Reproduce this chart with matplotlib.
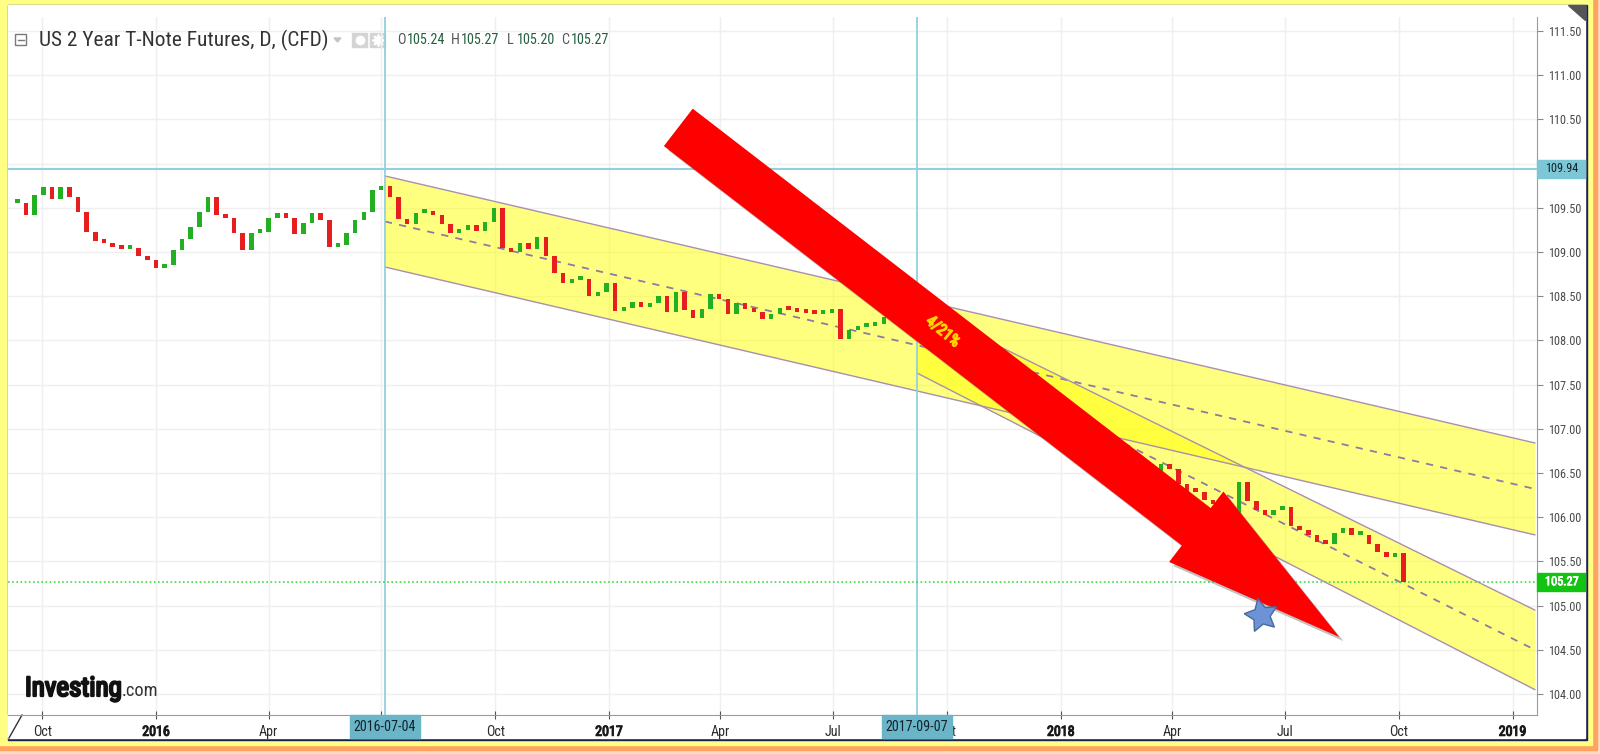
import matplotlib
matplotlib.use('Agg')
import matplotlib.pyplot as plt
import matplotlib.dates as mdates
import matplotlib.font_manager as fm
import matplotlib.patheffects as pe
from matplotlib.patches import Rectangle, Polygon, FancyArrowPatch, ArrowStyle
from matplotlib.textpath import TextPath
import numpy as np
import pandas as pd

# weekly closes (Sep 2015 .. Oct 2018)
close = [109.55, 109.42, 109.65, 109.74, 109.60, 109.74, 109.62, 109.45, 109.23, 109.12,
         109.10, 109.06, 109.03, 109.05, 108.95, 108.91, 108.82, 108.85, 109.02, 109.15,
         109.28, 109.45, 109.62, 109.42, 109.38, 109.22, 109.02, 109.22, 109.23, 109.38,
         109.44, 109.38, 109.20, 109.33, 109.44, 109.36, 109.06, 109.08, 109.22, 109.36,
         109.45, 109.70, 109.75, 109.62, 109.37, 109.32, 109.44, 109.45, 109.42, 109.32,
         109.22, 109.25, 109.30, 109.24, 109.34, 109.50, 109.05, 109.00, 109.10, 109.03,
         109.17, 108.95, 108.76, 108.65, 108.68, 108.70, 108.50, 108.55, 108.65, 108.33,
         108.37, 108.44, 108.38, 108.42, 108.50, 108.32, 108.55, 108.34, 108.25, 108.36,
         108.52, 108.47, 108.30, 108.42, 108.36, 108.32, 108.24, 108.30, 108.37, 108.34,
         108.32, 108.31, 108.30, 108.31, 108.36, 108.02, 108.12, 108.15, 108.16, 108.19,
         108.26, 108.28, 108.30, 108.27, 108.30, 108.22, 108.12, 108.05, 108.00, 107.95,
         107.90, 107.85, 107.80, 107.72, 107.62, 107.55, 107.50, 107.45, 107.35, 107.30,
         107.20, 107.10, 107.00, 106.92, 106.85, 106.78, 106.70, 106.62, 106.55, 106.50,
         106.48, 106.52, 106.60, 106.55, 106.38, 106.30, 106.28, 106.20, 106.15, 106.10,
         106.02, 106.40, 106.18, 106.08, 106.02, 106.08, 106.12, 105.90, 105.86, 105.80,
         105.72, 105.70, 105.82, 105.88, 105.80, 105.80, 105.70, 105.61, 105.55, 105.60,
         105.27]
weeks = pd.date_range('2015-09-11', periods=len(close), freq='7D')

# channels
ch1_dates = ['2016-07-04', '2019-01-19']
ch1_upper = [109.86, 106.84]
ch1_lower = [108.83, 105.80]
ch2_dates = ['2017-09-07', '2019-01-19']
ch2_upper = [108.39, 104.95]
ch2_lower = [107.63, 104.05]

# markers / annotations
vlines = ['2016-07-04', '2017-09-07']
hline = 109.94
last = 105.27
arrow_tail = ('2017-02-26', 110.41)
arrow_tip = ('2018-08-14', 104.645)
arrow_text = ('2017-09-28', 108.10, '4/21%')
star = ('2018-06-12', 104.89)

tick_dates = ['2015-10-01', '2016-01-01', '2016-04-01', '2016-07-01', '2016-10-01',
              '2017-01-01', '2017-04-01', '2017-07-01', '2017-10-01', '2018-01-01',
              '2018-04-01', '2018-07-01', '2018-10-01', '2019-01-01']
# Jul 2016 sits under the 2016-07-04 marker box
tick_labels = ['Oct', '2016', 'Apr', '', 'Oct', '2017', 'Apr', 'Jul', 'Oct',
               '2018', 'Apr', 'Jul', 'Oct', '2019']
yticks = np.arange(104.0, 111.51, 0.5)
ohlc = [('O', '105.24'), ('H', '105.27'), ('L', '105.20'), ('C', '105.27')]


# ---- fonts: look for a narrow face, size everything to the reference widths
def pick(keys):
    for k in keys:
        for f in fm.fontManager.ttflist:
            fn = f.fname.lower().replace(' ', '').replace('_', '')
            if k in fn and not any(b in fn for b in ['bold', 'italic', 'oblique', 'light', 'medium', 'thin', 'black']):
                return f.fname
    return None


keys = ['liberationsansnarrow', 'robotocondensed', 'dejavusanscondensed', 'opensanscondensed',
        'narrow', 'condensed']
reg_file = pick(keys) or fm.findfont(fm.FontProperties(family='Liberation Sans'))


def fp(size):
    return fm.FontProperties(fname=reg_file, size=size)


def fit(s, px):
    w = TextPath((0, 0), s, size=100, prop=fp(100)).get_extents().width
    return px / (w * 100 / 72.0) * 100


def heavy(color, w=0.8):
    return [pe.withStroke(linewidth=w, foreground=color)]


ysz = fit('111.50', 32)
xsz = fit('2016-07-04', 61)

W, H = 1600, 754
fig = plt.figure(figsize=(16, 7.54), dpi=100, facecolor='#fddcc2')

# ---- frame
bg = fig.add_axes([0, 0, 1, 1])
bg.set_autoscale_on(False)
bg.set_xlim(0, W)
bg.set_ylim(H, 0)
bg.axis('off')
bg.add_patch(Rectangle((0, 0), 1597, 750, color='#ffa262'))
bg.add_patch(Rectangle((0, 0), 1592, 745, color='#ffff84'))
bg.add_patch(Rectangle((8, 5), 1579, 735, color='#1d2150'))
bg.add_patch(Rectangle((8, 5), 1577, 733, color='white'))
gb = np.linspace(0.88, 0.55, 40)[:, None] * np.ones((1, 2))
bg.imshow(gb, cmap='gray', vmin=0, vmax=1, extent=(8, 1585, 738, 715), aspect='auto')
gr = np.linspace(1.0, 0.35, 40)[None, :] * np.ones((2, 1))
bg.imshow(gr, cmap='gray', vmin=0, vmax=1, extent=(1562, 1585, 738, 5), aspect='auto')
bg.add_patch(Polygon([(8, 715), (22, 715), (8, 738)], color='white'))
bg.plot([9, 22], [738, 715], color='#333', lw=1)
bg.add_patch(Polygon([(1568, 5), (1585, 5), (1585, 20)], color='#555'))

# ---- main chart
ax = fig.add_axes([8 / W, 1 - 715 / H, (1537 - 8) / W, (715 - 17) / H])
ax.patch.set_alpha(0)
d0 = mdates.date2num(pd.Timestamp('2016-01-01'))
ax.set_xlim(d0 + (8 - 156) / 1.2377, d0 + (1537 - 156) / 1.2377)
ax.set_ylim(111.5 - (715 - 31) / 88.4, 111.5 + (31 - 17) / 88.4)
ax.set_axisbelow(True)

for s in ['top', 'left']:
    ax.spines[s].set_visible(False)
for s in ['right', 'bottom']:
    ax.spines[s].set_color('#9a9a9a')

ax.yaxis.tick_right()
ax.set_yticks(yticks)
ax.set_yticklabels(['%.2f' % v for v in yticks], color='#4a4a4a')
for lab in ax.get_yticklabels():
    lab.set_fontproperties(fp(ysz))
ax.tick_params(axis='y', direction='out', length=4, color='#888', pad=4)
xt = mdates.date2num(pd.to_datetime(tick_dates))
ax.set_xticks(xt)
ax.set_xticklabels(tick_labels, color='#2a2a2a')
for lab in ax.get_xticklabels():
    lab.set_fontproperties(fp(xsz))
    if lab.get_text().isdigit():
        lab.set_color('#1a1a1a')
        lab.set_path_effects(heavy('#1a1a1a'))
ax.tick_params(axis='x', direction='inout', length=6, color='#555', pad=4)
ax.grid(True, color='#efefef', lw=1)

# channels
for dts, up, lo, z in [(ch1_dates, ch1_upper, ch1_lower, 2), (ch2_dates, ch2_upper, ch2_lower, 2.1)]:
    cx = mdates.date2num(pd.to_datetime(dts))
    up = np.array(up)
    lo = np.array(lo)
    ax.fill_between(cx, lo, up, color='#ffff00', alpha=0.5, lw=0, zorder=z)
    ax.plot(cx, up, color='#a88fae', lw=1, zorder=3)
    ax.plot(cx, lo, color='#a88fae', lw=1, zorder=3)
    ax.plot(cx, (up + lo) / 2, color='#8f7aa3', lw=1.3, ls=(0, (4, 4)), zorder=3)

# reference lines
for d in vlines:
    ax.axvline(mdates.date2num(pd.Timestamp(d)), color='#93d0df', lw=1.3, zorder=3.5)
ax.axhline(hline, color='#93d0df', lw=1.5, zorder=3.5)
ax.axhline(last, color='#3edc3e', lw=1.2, ls=(0, (1, 1.5)), zorder=3.5)

# candles
t = mdates.date2num(weeks)
c = np.array(close)
o = np.r_[c[0], c[:-1]]
cols = np.where(c >= o, '#22b022', '#e61e1e')
ax.bar(t, np.maximum(np.abs(c - o), 0.045), width=3.6, bottom=np.minimum(o, c),
       color=cols, lw=0, zorder=4)

# red arrow
ta = (mdates.date2num(pd.Timestamp(arrow_tail[0])), arrow_tail[1])
tb = (mdates.date2num(pd.Timestamp(arrow_tip[0])), arrow_tip[1])
arr = FancyArrowPatch(ta, tb, arrowstyle=ArrowStyle.Simple(head_length=1.3, head_width=0.64, tail_width=0.34),
                      mutation_scale=100, color='#ff0000', lw=0, shrinkA=0, shrinkB=0, zorder=8)
arr.set_path_effects([pe.SimplePatchShadow(offset=(3, -3), shadow_rgbFace='#777777', alpha=0.45), pe.Normal()])
ax.add_patch(arr)
ax.text(mdates.date2num(pd.Timestamp(arrow_text[0])), arrow_text[1], arrow_text[2],
        rotation=-40, rotation_mode='anchor', ha='center', va='center', color='#ffd400',
        fontproperties=fp(fit('4/21%', 38)), path_effects=heavy('#ffd400', 1.0), zorder=9)

ax.plot(mdates.date2num(pd.Timestamp(star[0])), star[1], marker=(5, 1, 12), ms=25,
        color='#6d93d6', mec='#476a9f', mew=1, zorder=9)

# price boxes on the right axis
ytr = ax.get_yaxis_transform()
bw = 48 / 1529
for v, fc, tc, bold in [(hline, '#7cc6d6', '#12222c', False), (last, '#12c312', 'white', True)]:
    ax.add_patch(Rectangle((1.0, v - 0.1), bw, 0.2, transform=ytr, color=fc, clip_on=False, zorder=10))
    ax.text(1.0 + 8 / 1529, v, '%.2f' % v, transform=ytr, ha='left', va='center',
            fontproperties=fp(ysz), color=tc, zorder=11,
            path_effects=heavy(tc, 0.6) if bold else None)

# date boxes on the bottom axis
xtr = ax.get_xaxis_transform()
for d in vlines:
    x = mdates.date2num(pd.Timestamp(d))
    ax.add_patch(Rectangle((x - 35 / 1.2377, -23 / 698), 70 / 1.2377, 23 / 698, transform=xtr,
                           color='#6ab5c8', clip_on=False, zorder=10))
    ax.text(x, -12 / 698, d, transform=xtr, ha='center', va='center',
            fontproperties=fp(xsz), color='#14222c', zorder=11)

# ---- header
ty = 1 - 40 / H
fig.text(39 / W, ty, 'US 2 Year T-Note Futures, D, (CFD)', va='center', color='#333333',
         fontproperties=fp(fit('US 2 Year T-Note Futures, D, (CFD)', 288)))
bg.add_patch(Rectangle((15, 34), 11, 11, fill=False, ec='#7a7a7a', lw=1))
bg.plot([17.5, 23.5], [39.5, 39.5], color='#7a7a7a', lw=1)
bg.add_patch(Polygon([(334, 38), (341, 38), (337.5, 42)], color='#c4c4c4'))
for x0 in [352, 370]:
    bg.add_patch(Rectangle((x0, 33), 15, 14, color='#d4d4d4'))
bg.plot([359.5], [40], marker='o', ms=6, mfc='white', mec='white')
bg.plot([377.5], [40], marker=(8, 1, 0), ms=9, color='white')
nsz = fit('105.24', 37)
for x0, (lab, val) in zip([397, 451, 507, 561], ohlc):
    fig.text(x0 / W, ty, lab, va='center', color='#555555', fontproperties=fp(nsz))
    fig.text((x0 + 10) / W, ty, val, va='center', color='#22603e', fontproperties=fp(nsz))

# ---- logo
fig.text(25 / W, 1 - 696 / H, 'Investing', va='baseline', color='#111111',
         fontproperties=fp(fit('Investing', 93)), path_effects=heavy('#111111', 1.6))
fig.text(122 / W, 1 - 696 / H, '.com', va='baseline', color='#333333',
         fontproperties=fp(fit('.com', 34)))

fig.savefig('out.png', dpi=100, facecolor=fig.get_facecolor())
